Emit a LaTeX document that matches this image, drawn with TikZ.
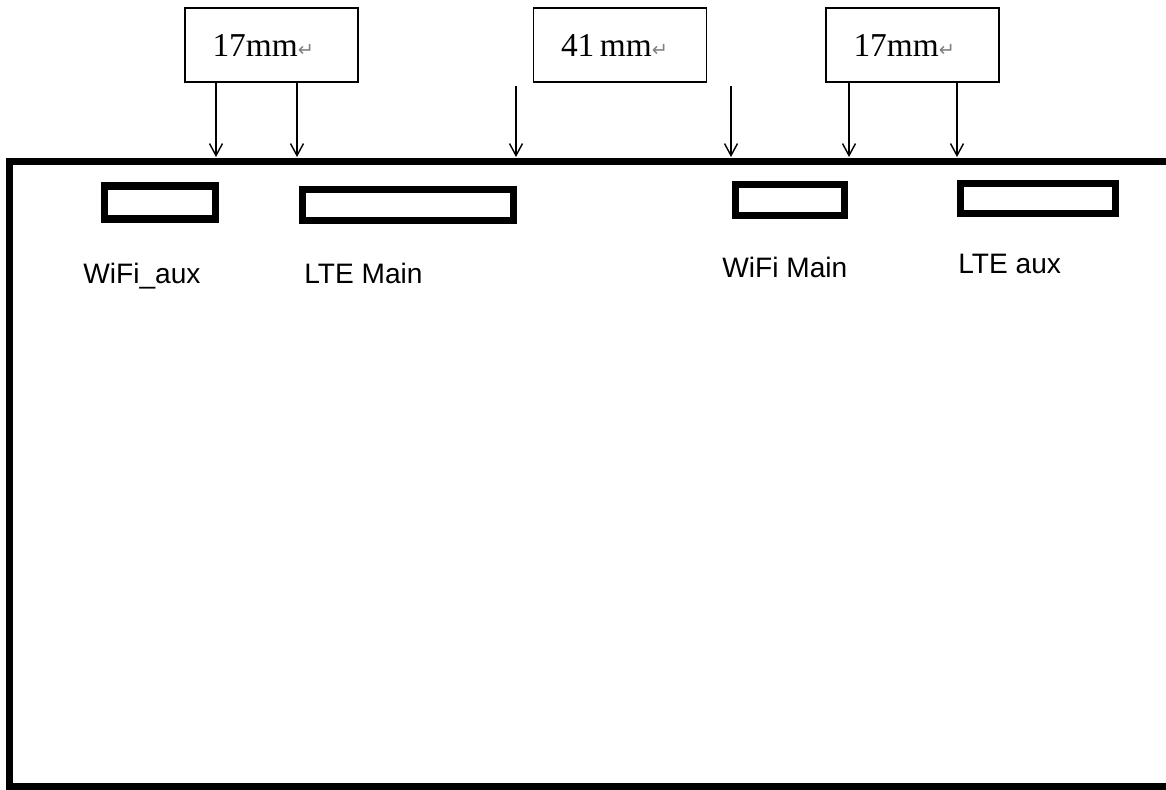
\documentclass[tikz,border=0pt]{standalone}
\usepackage{fontspec}
\setmainfont{Liberation Serif}
\setsansfont{Liberation Sans}
\newfontfamily\symfont{DejaVu Sans}
\usetikzlibrary{arrows.meta}
\newcommand{\retmark}{{\symfont\fontsize{11}{11}\selectfont\textcolor{gray}{↵}}}
\begin{document}
\begin{tikzpicture}[x=0.02cm,y=-0.02cm,
dimbox/.style={draw,line width=0.8pt,minimum width=3.46cm,minimum height=1.48cm,text width=2.36cm,inner xsep=0.55cm,align=left,font=\fontsize{19}{19}\selectfont},
port/.style={draw,line width=4pt,inner sep=0pt},
portname/.style={anchor=base west,inner sep=0pt,font=\sffamily\fontsize{16}{16}\selectfont},
arr/.style={line width=0.8pt,-{Straight Barb[length=2.4mm,width=2.6mm]}}]
\def\ytop{157};
\def\yfree{86};
\useasboundingbox (0,0) rectangle (1166,789);
\draw[line width=4pt] (1180,161.5) -- (9.5,161.5) -- (9.5,786) -- (1180,786);
\node[dimbox] (dimA) at (271.5,45) {17mm\retmark};
\node[dimbox] (dimB) at (620,45) {41\,mm\retmark};
\node[dimbox] (dimC) at (912.5,45) {17mm\retmark};
\node[port,minimum width=2.22cm,minimum height=0.66cm] (wifiaux) at (160,202.5) {};
\node[port,minimum width=4.22cm,minimum height=0.62cm] (ltemain) at (408,205) {};
\node[port,minimum width=2.18cm,minimum height=0.62cm] (wifimain) at (790,200) {};
\node[port,minimum width=3.10cm,minimum height=0.60cm] (lteaux) at (1038,198.5) {};
\node[portname] (wifiauxname) at (83,283) {WiFi\_aux};
\node[portname] (ltemainname) at (304,283) {LTE Main};
\node[portname] (wifimainname) at (722,277) {WiFi Main};
\node[portname] (lteauxname) at (958,273) {LTE aux};
\coordinate (t1) at (216,\ytop);
\coordinate (t2) at (297,\ytop);
\coordinate (t3) at (516,\ytop);
\coordinate (t4) at (731,\ytop);
\coordinate (t5) at (849,\ytop);
\coordinate (t6) at (957,\ytop);
\coordinate (s3) at (516,\yfree);
\coordinate (s4) at (731,\yfree);
\draw[arr] (dimA.south -| t1) -- (t1);
\draw[arr] (dimA.south -| t2) -- (t2);
\draw[arr] (s3) -- (t3);
\draw[arr] (s4) -- (t4);
\draw[arr] (dimC.south -| t5) -- (t5);
\draw[arr] (dimC.south -| t6) -- (t6);
\end{tikzpicture}
\end{document}
